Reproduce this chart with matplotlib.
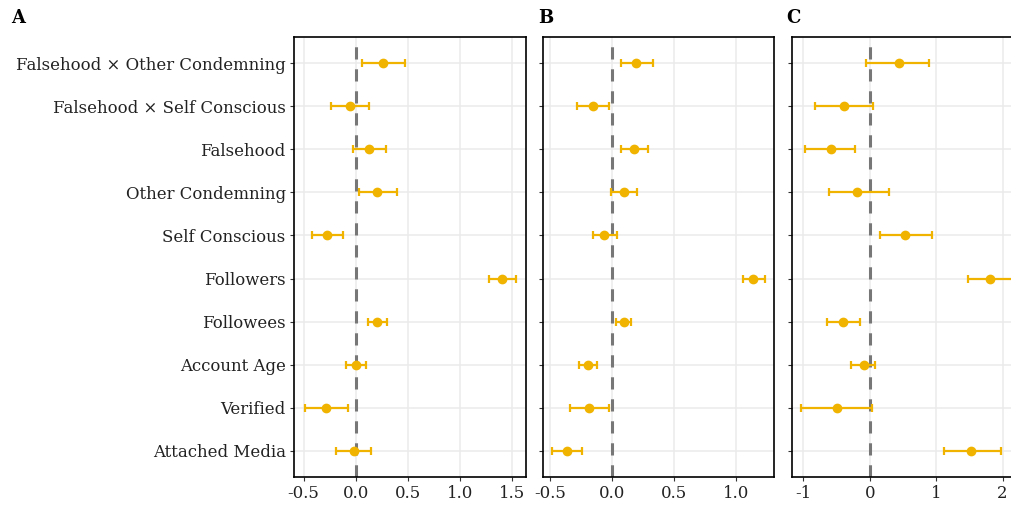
import matplotlib
matplotlib.use("Agg")
import matplotlib.pyplot as plt
import numpy as np

plt.rcParams["font.family"] = ["DejaVu Serif"]
plt.rcParams["axes.unicode_minus"] = False

terms = [
    "Falsehood \u00d7 Other Condemning",
    "Falsehood \u00d7 Self Conscious",
    "Falsehood",
    "Other Condemning",
    "Self Conscious",
    "Followers",
    "Followees",
    "Account Age",
    "Verified",
    "Attached Media",
]

# panel A
est_a = [0.266, -0.058, 0.128, 0.208, -0.273, 1.41, 0.205, 0.006, -0.283, -0.019]
lo_a = [0.058, -0.24, -0.029, 0.029, -0.42, 1.285, 0.115, -0.093, -0.49, -0.192]
hi_a = [0.474, 0.131, 0.291, 0.397, -0.122, 1.544, 0.301, 0.102, -0.071, 0.15]

# panel B
est_b = [0.197, -0.154, 0.18, 0.094, -0.062, 1.14, 0.094, -0.194, -0.183, -0.364]
lo_b = [0.07, -0.283, 0.075, -0.008, -0.156, 1.057, 0.035, -0.27, -0.337, -0.483]
hi_b = [0.329, -0.024, 0.289, 0.2, 0.038, 1.234, 0.154, -0.119, -0.027, -0.245]

# panel C
est_c = [0.437, -0.383, -0.584, -0.196, 0.537, 1.81, -0.403, -0.09, -0.493, 1.532]
lo_c = [-0.056, -0.825, -0.976, -0.609, 0.16, 1.483, -0.649, -0.278, -1.032, 1.116]
hi_c = [0.894, 0.045, -0.217, 0.287, 0.94, 2.16, -0.146, 0.084, 0.035, 1.97]

panels = [
    ("A", est_a, lo_a, hi_a, (-0.593, 1.637), [-0.5, 0.0, 0.5, 1.0, 1.5], ["-0.5", "0.0", "0.5", "1.0", "1.5"]),
    ("B", est_b, lo_b, hi_b, (-0.56, 1.312), [-0.5, 0.0, 0.5, 1.0], ["-0.5", "0.0", "0.5", "1.0"]),
    ("C", est_c, lo_c, hi_c, (-1.177, 2.18), [-1, 0, 1, 2], ["-1", "0", "1", "2"]),
]

W, H = 1012, 505
boxes = [(294, 526), (542.7, 774.3), (791.7, 1014.5)]
top, bottom = 37.3, 476.7

GOLD = "#F0B400"

fig = plt.figure(figsize=(W / 100, H / 100), dpi=100)

ypos = np.arange(len(terms))[::-1] + 1

for i, (lab, est, lo, hi, xlim, xt, xtl) in enumerate(panels):
    x0, x1 = boxes[i]
    ax = fig.add_axes([x0 / W, 1 - bottom / H, (x1 - x0) / W, (bottom - top) / H])
    est = np.array(est)
    err = [est - np.array(lo), np.array(hi) - est]

    ax.set_xlim(*xlim)
    ax.set_ylim(0.4, 10.6)
    ax.set_xticks(xt)
    ax.set_xticklabels(xtl)
    ax.set_yticks(ypos)
    if i == 0:
        ax.set_yticklabels(terms)
    else:
        ax.set_yticklabels([])

    ax.grid(True, color="#EBEBEB", linewidth=1.1, zorder=0)
    ax.set_axisbelow(True)
    ax.axvline(0, color="#777777", linewidth=2.2, linestyle=(0, (4, 3.2)), zorder=1)
    ax.errorbar(est, ypos, xerr=err, fmt="o", color=GOLD, ecolor=GOLD,
                markersize=6, elinewidth=1.6, capsize=2.6, capthick=1.6, zorder=3)

    for s in ax.spines.values():
        s.set_color("black")
        s.set_linewidth(1.2)
    ax.tick_params(axis="both", colors="#333333", labelcolor="#222222",
                   length=3, width=0.8, labelsize=11.9, pad=3)

    fig.text((x0 - 5) / W if i > 0 else 11 / W, 1 - 18 / H, lab,
             fontsize=13, fontweight="bold", va="center", ha="left")

fig.savefig("out.png", dpi=100)
